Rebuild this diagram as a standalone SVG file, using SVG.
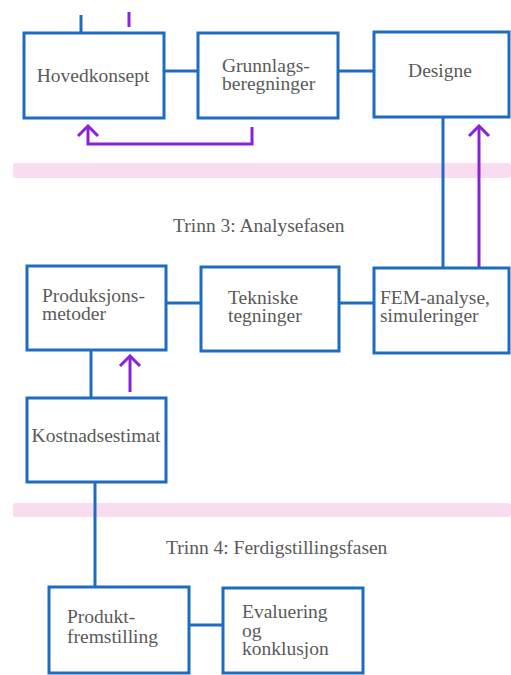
<svg xmlns="http://www.w3.org/2000/svg" width="511" height="675" viewBox="0 0 511 675">
  <style>
    .box { fill: #ffffff; stroke: #1e6cc0; stroke-width: 3; }
    .link { fill: none; stroke: #1e6cc0; stroke-width: 3; }
    .flow { fill: none; stroke: #8a22d8; stroke-width: 3; }
    .band { fill: #fadcf0; }
    text { font-family: "Liberation Serif", "DejaVu Serif", serif; font-size: 19.5px; fill: #5a5a5a; }
    .phase { font-size: 19.5px; }
  </style>
  <defs>
    <marker id="chevron" viewBox="-12 -12 14 24" markerWidth="14" markerHeight="24" refX="0" refY="0" orient="auto" markerUnits="userSpaceOnUse">
      <path d="M-10,-10 L0,0 L-10,10" fill="none" stroke="#8a22d8" stroke-width="3"/>
    </marker>
  </defs>

  <rect width="511" height="675" fill="#ffffff"/>

  <!-- phase separators -->
  <rect class="band" x="13" y="163" width="498" height="15" rx="3"/>
  <rect class="band" x="13" y="503" width="498" height="14" rx="3"/>
  <text class="phase" x="173" y="232">Trinn 3: Analysefasen</text>
  <text class="phase" x="166" y="554">Trinn 4: Ferdigstillingsfasen</text>

  <g id="connectors">
    <line class="link" x1="81" y1="15" x2="81" y2="33"/>
    <line class="flow" x1="129" y1="12" x2="129" y2="27"/>
    <line class="link" x1="164" y1="71" x2="198" y2="71"/>
    <line class="link" x1="338" y1="71" x2="374" y2="71"/>
    <path class="flow" d="M252,127 V144 H88 V126" marker-end="url(#chevron)"/>
    <line class="link" x1="443" y1="117" x2="443" y2="268"/>
    <path class="flow" d="M479,268 V126" marker-end="url(#chevron)"/>
    <line class="link" x1="166" y1="303" x2="201" y2="303"/>
    <line class="link" x1="339" y1="303" x2="374" y2="303"/>
    <line class="link" x1="91" y1="350" x2="91" y2="398"/>
    <path class="flow" d="M130,392 V356" marker-end="url(#chevron)"/>
    <line class="link" x1="95" y1="482" x2="95" y2="587"/>
    <line class="link" x1="189" y1="625" x2="223" y2="625"/>
  </g>

  <g id="hovedkonsept">
    <rect class="box" x="24" y="33" width="140" height="85"/>
    <text x="93" y="82" text-anchor="middle">Hovedkonsept</text>
  </g>
  <g id="grunnlagsberegninger">
    <rect class="box" x="198" y="33" width="140" height="85"/>
    <text x="222" y="72">Grunnlags-</text>
    <text x="222" y="90">beregninger</text>
  </g>
  <g id="designe">
    <rect class="box" x="374" y="32" width="135" height="85"/>
    <text x="440" y="77" text-anchor="middle">Designe</text>
  </g>
  <g id="produksjonsmetoder">
    <rect class="box" x="27" y="266" width="139" height="84"/>
    <text x="42" y="302">Produksjons-</text>
    <text x="42" y="320">metoder</text>
  </g>
  <g id="tekniske-tegninger">
    <rect class="box" x="201" y="267" width="138" height="84"/>
    <text x="228" y="304">Tekniske</text>
    <text x="228" y="322">tegninger</text>
  </g>
  <g id="fem-analyse">
    <rect class="box" x="374" y="268" width="135" height="85"/>
    <text x="380" y="304">FEM-analyse,</text>
    <text x="380" y="322">simuleringer</text>
  </g>
  <g id="kostnadsestimat">
    <rect class="box" x="27" y="398" width="139" height="84"/>
    <text x="96" y="442" text-anchor="middle">Kostnadsestimat</text>
  </g>
  <g id="produktfremstilling">
    <rect class="box" x="49" y="587" width="140" height="86"/>
    <text x="67" y="623">Produkt-</text>
    <text x="67" y="643">fremstilling</text>
  </g>
  <g id="evaluering">
    <rect class="box" x="223" y="588" width="140" height="85"/>
    <text x="242" y="618">Evaluering</text>
    <text x="242" y="637">og</text>
    <text x="242" y="655">konklusjon</text>
  </g>
</svg>
